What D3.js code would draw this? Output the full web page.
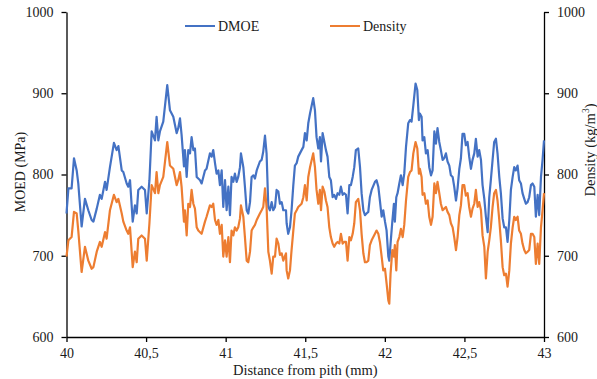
<!DOCTYPE html>
<html>
<head>
<meta charset="utf-8">
<script src="https://cdn.jsdelivr.net/npm/d3@7"></script>
<style>
  body { margin: 0; background: #fff; }
  svg text { font-family: "Liberation Serif", "Times New Roman", "DejaVu Serif", serif; fill: #1a1a1a; }
</style>
</head>
<body>
<svg id="chart" width="597" height="379"></svg>
<script>
// distance from pith (mm)
const distance = [
  40.000, 40.012, 40.032, 40.047, 40.064, 40.074, 40.095, 40.116, 40.137, 40.158,
  40.169, 40.190, 40.210, 40.221, 40.242, 40.252, 40.273, 40.298, 40.315, 40.326,
  40.347, 40.357, 40.378, 40.388, 40.399, 40.416, 40.430, 40.441, 40.451, 40.472,
  40.493, 40.504, 40.521, 40.535, 40.556, 40.566, 40.577, 40.587, 40.608, 40.633,
  40.650, 40.671, 40.692, 40.702, 40.713, 40.723, 40.738,
  40.744, 40.755, 40.765, 40.776, 40.786, 40.797, 40.807, 40.818, 40.828, 40.839,
  40.849, 40.870, 40.880, 40.901, 40.912, 40.922, 40.933, 40.943, 40.954, 40.964,
  40.975, 40.985, 40.996, 41.006, 41.017, 41.027, 41.037, 41.048, 41.058, 41.069,
  41.079, 41.090, 41.096, 41.111, 41.121, 41.132, 41.142, 41.153, 41.163, 41.174,
  41.184, 41.195, 41.215, 41.226, 41.236, 41.247, 41.257, 41.268, 41.278, 41.289,
  41.299, 41.310, 41.320, 41.331, 41.341, 41.352, 41.362, 41.379, 41.383, 41.393,
  41.404, 41.414, 41.425, 41.435, 41.446, 41.456,
  41.477, 41.488, 41.498, 41.509, 41.519, 41.530, 41.550, 41.561, 41.571, 41.582,
  41.592, 41.599, 41.609, 41.620, 41.630, 41.640, 41.651, 41.661, 41.672, 41.682,
  41.693, 41.703, 41.714, 41.724, 41.735, 41.745, 41.756, 41.766, 41.777, 41.787,
  41.798, 41.808, 41.818, 41.833, 41.844, 41.854, 41.865, 41.875, 41.885, 41.896,
  41.906, 41.917, 41.938, 41.948, 41.959, 41.969, 41.980, 41.990, 42.001, 42.011,
  42.022, 42.028, 42.036, 42.047, 42.057, 42.063, 42.072, 42.080, 42.091, 42.101,
  42.112, 42.122, 42.133, 42.147, 42.158, 42.168, 42.179, 42.193, 42.204, 42.214,
  42.220, 42.231, 42.237, 42.248, 42.258, 42.269, 42.279, 42.290, 42.300, 42.311,
  42.321, 42.331, 42.342, 42.352, 42.363, 42.373, 42.384, 42.394, 42.405, 42.415,
  42.426, 42.436, 42.447, 42.457, 42.468, 42.478, 42.488, 42.499, 42.509, 42.520,
  42.530, 42.541, 42.551, 42.562, 42.572, 42.583, 42.593, 42.604, 42.614, 42.625,
  42.635, 42.646, 42.656, 42.666, 42.677, 42.687, 42.698, 42.708, 42.719, 42.729,
  42.740, 42.750, 42.761, 42.771, 42.782, 42.792, 42.803, 42.813, 42.823, 42.834,
  42.844, 42.855, 42.865, 42.876, 42.886, 42.897, 42.907, 42.918, 42.928, 42.939,
  42.949, 42.960, 42.970, 42.981, 42.991, 43.000
];

// DMOE (MPa), left axis
const dmoe = [
  752, 783, 783, 820, 805, 789, 736, 770, 756, 744,
  742, 758, 775, 770, 791, 781, 809, 839, 830, 835,
  805, 803, 789, 785, 793, 742, 762, 752, 781, 785,
  781, 752, 793, 853, 842, 871, 842, 853, 865, 910,
  879, 871, 851, 857, 869, 849, 810,
  830, 797, 830, 826, 846, 830, 832, 797, 795, 793,
  789, 805, 807, 826, 822, 830, 814, 801, 805, 787,
  805, 760, 793, 756, 785, 750, 797, 791, 801, 791,
  797, 809, 826, 809, 785, 756, 752, 766, 797, 799,
  795, 805, 816, 818, 828, 848, 826, 760, 756, 766,
  756, 760, 781, 779, 764, 766, 756, 756, 740, 727,
  735, 756, 787, 811, 814, 822,
  830, 834, 851, 842, 863, 875, 894, 879, 846, 832,
  846, 816, 851, 840, 830, 822, 797, 793, 772, 775,
  770, 777, 775, 785, 775, 777, 775, 752, 787, 787,
  797, 809, 830, 832, 809, 777, 756, 750, 752, 754,
  772, 781, 791, 793, 785, 768, 748, 756, 742, 731,
  699, 694, 715, 742, 764, 742, 772, 777, 789, 799,
  787, 801, 834, 863, 867, 865, 885, 912, 904, 867,
  875, 871, 842, 846, 826, 830, 809, 799, 805, 853,
  838, 857, 840, 830, 818, 820, 826, 816, 811, 799,
  797, 785, 768, 783, 807, 820, 850, 850, 836, 840,
  822, 807, 818, 826, 844, 822, 830, 818, 787, 770,
  748, 729, 772, 793, 818, 840, 844, 826, 797, 777,
  746, 735, 735, 717, 744, 781, 797, 809, 805, 811,
  793, 789, 777, 770, 764, 766, 772, 787, 789, 785,
  748, 775, 750, 797, 818, 842
];

// density (kg/m3), right axis
const density = [
  699, 719, 723, 754, 752, 731, 680, 711, 694, 684,
  686, 705, 717, 711, 729, 721, 756, 775, 766, 770,
  752, 742, 731, 727, 735, 686, 705, 692, 721, 725,
  721, 694, 740, 787, 777, 803, 777, 787, 797, 840,
  811, 807, 787, 793, 803, 785, 742,
  756, 725, 764, 760, 781, 764, 758, 735, 731, 729,
  727, 742, 748, 762, 760, 764, 744, 738, 744, 727,
  738, 699, 719, 699, 723, 692, 731, 725, 735, 731,
  735, 746, 762, 748, 723, 694, 692, 705, 731, 735,
  738, 744, 752, 756, 760, 783, 760, 705, 694, 678,
  699, 699, 721, 715, 701, 703, 694, 703, 682, 672,
  682, 707, 731, 752, 756, 760,
  764, 772, 787, 768, 797, 809, 826, 809, 781, 764,
  781, 756, 785, 779, 768, 760, 735, 723, 715, 711,
  715, 717, 715, 727, 715, 717, 717, 694, 723, 719,
  727, 740, 766, 770, 756, 727, 703, 692, 692, 694,
  713, 719, 727, 731, 727, 717, 699, 682, 684, 666,
  645, 641, 678, 707, 699, 713, 682, 717, 723, 733,
  723, 738, 768, 797, 803, 805, 826, 840, 832, 801,
  807, 797, 775, 777, 764, 768, 748, 738, 748, 789,
  777, 791, 777, 764, 756, 758, 760, 754, 750, 740,
  735, 723, 707, 723, 750, 762, 787, 787, 774, 777,
  760, 748, 758, 764, 781, 760, 766, 756, 725, 711,
  672, 705, 719, 735, 760, 777, 781, 768, 744, 719,
  686, 676, 678, 662, 682, 715, 735, 748, 744, 748,
  731, 727, 715, 707, 703, 705, 707, 727, 727, 723,
  690, 715, 690, 735, 756, 777
];

const xTicks = [40, 40.5, 41, 41.5, 42, 42.5, 43];
const yTicks = [600, 700, 800, 900, 1000];
const seriesNames = ['DMOE', 'Density'];
const seriesColors = ['#4472c4', '#ed7d31'];

const plotLeft = 66.5, plotRight = 544, plotTop = 12, plotBottom = 337;
const serif = '"Liberation Serif", "Times New Roman", "DejaVu Serif", serif';

const svg = d3.select('#chart');

const x = d3.scaleLinear().domain([40, 43]).range([plotLeft, plotRight]);
const yLeft = d3.scaleLinear().domain([600, 1000]).range([plotBottom, plotTop]);
const yRight = d3.scaleLinear().domain([600, 1000]).range([plotBottom, plotTop]);

const fmtX = d => String(d).replace('.', ',');
const fmtY = d3.format('d');

// axes
const gx = svg.append('g')
    .attr('transform', `translate(0,${plotBottom})`)
    .call(d3.axisBottom(x).tickValues(xTicks).tickFormat(fmtX).tickSize(5).tickPadding(6).tickSizeOuter(0));

const gl = svg.append('g')
    .attr('transform', `translate(${plotLeft},0)`)
    .call(d3.axisLeft(yLeft).tickValues(yTicks).tickFormat(fmtY).tickSize(5).tickPadding(8).tickSizeOuter(0));

const gr = svg.append('g')
    .attr('transform', `translate(${plotRight},0)`)
    .call(d3.axisRight(yRight).tickValues(yTicks).tickFormat(fmtY).tickSize(5).tickPadding(8).tickSizeOuter(0));

[gx, gl, gr].forEach(g => {
    g.attr('font-family', serif).attr('font-size', 14);
    g.selectAll('path, line').attr('stroke', '#000').attr('stroke-width', 1.3);
    g.selectAll('text').style('font-family', serif).style('font-size', '14px').attr('fill', '#1a1a1a');
});

// lines
const rows = distance.map((d, i) => ({ d: d, m: dmoe[i], r: density[i] }));

svg.append('path')
    .datum(rows)
    .attr('fill', 'none')
    .attr('stroke', seriesColors[0])
    .attr('stroke-width', 2.2)
    .attr('stroke-linejoin', 'round')
    .attr('d', d3.line().x(p => x(p.d)).y(p => yLeft(p.m)));

svg.append('path')
    .datum(rows)
    .attr('fill', 'none')
    .attr('stroke', seriesColors[1])
    .attr('stroke-width', 2.2)
    .attr('stroke-linejoin', 'round')
    .attr('d', d3.line().x(p => x(p.d)).y(p => yRight(p.r)));

// axis titles
svg.append('text')
    .attr('x', (plotLeft + plotRight) / 2)
    .attr('y', 375)
    .attr('text-anchor', 'middle')
    .style('font-family', serif)
    .style('font-size', '14.5px')
    .text('Distance from pith (mm)');

svg.append('text')
    .attr('transform', 'translate(25,172) rotate(-90)')
    .attr('text-anchor', 'middle')
    .style('font-family', serif)
    .style('font-size', '14px')
    .text('MOED (MPa)');

const dt = svg.append('text')
    .attr('transform', 'translate(595,150) rotate(-90)')
    .attr('text-anchor', 'middle')
    .style('font-family', serif)
    .style('font-size', '14.5px');
dt.append('tspan').text('Density (kg/m');
dt.append('tspan').style('font-size', '9.5px').attr('dy', -6).text('3');
dt.append('tspan').attr('dy', 6).text(')');

// legend
const legendX = [185, 330];
seriesNames.forEach((name, i) => {
    const g = svg.append('g').attr('transform', `translate(${legendX[i]},26)`);
    g.append('line')
        .attr('x1', 0).attr('x2', 30)
        .attr('stroke', seriesColors[i])
        .attr('stroke-width', 2);
    g.append('text')
        .attr('x', 33)
        .attr('y', 5)
        .style('font-family', serif)
        .style('font-size', '14px')
        .text(name);
});
</script>
</body>
</html>
